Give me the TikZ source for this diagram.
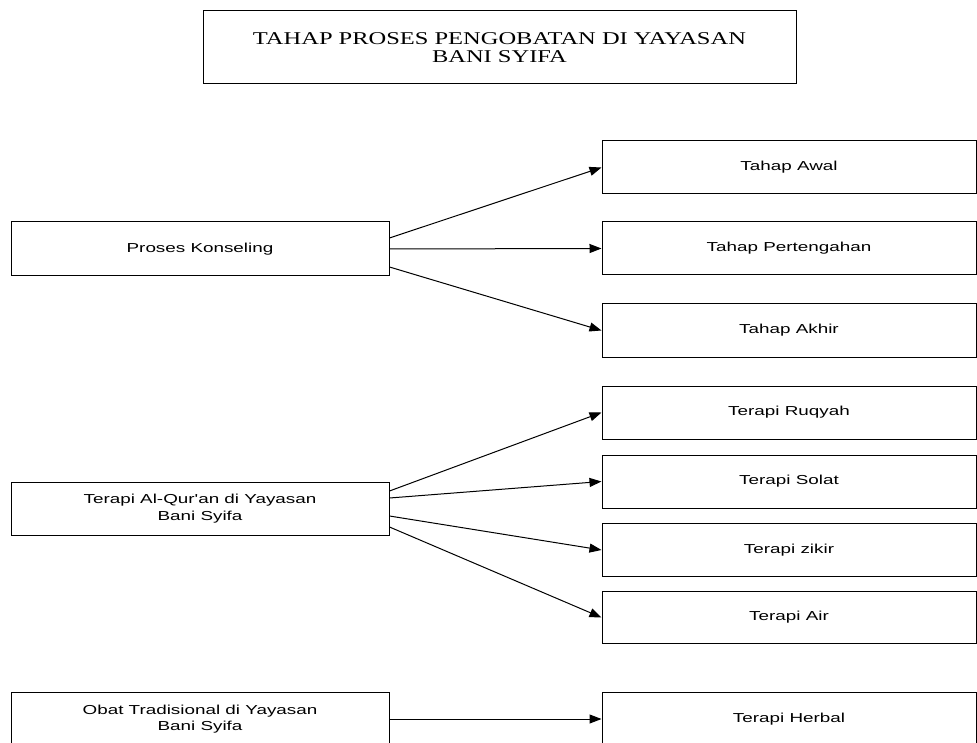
\documentclass[tikz,border=0pt]{standalone}
\usepackage{fontspec}
\setmainfont{Liberation Serif}
\newfontfamily\arialx[FakeStretch=1.45]{Liberation Sans}
\newfontfamily\timesx[FakeStretch=1.36]{Liberation Serif}
\usetikzlibrary{arrows.meta}

\begin{document}
\begin{tikzpicture}[
					x = 1pt, y = -1pt,
					line width = 1pt,
					every node/.style = {
						shape = rectangle,
						draw,
						minimum width = 374pt,
						minimum height = 54pt,
						align = center,
						font = \arialx\fontsize{13}{16.5}\selectfont,
					},
					kiri/.style = {minimum width = 378pt},
					panah/.style = {-{Triangle[length = 12pt, width = 9pt]}},
			]
				\clip (0, 0) rectangle (977, 743);

				\draw (499.5, 47.5) node (judul) [rectangle, minimum width = 593pt, minimum height = 73pt, font = \timesx\fontsize{18}{18}\selectfont] {TAHAP PROSES PENGOBATAN DI YAYASAN\\BANI SYIFA};

				\draw (200, 249) node (konseling) [rectangle, kiri] {Proses Konseling};
				\draw (200, 508.5) node (alquran) [rectangle, kiri, minimum height = 53pt] {Terapi Al-Qur'an di Yayasan\\Bani Syifa};
				\draw (200, 719) node (obat) [rectangle, kiri] {Obat Tradisional di Yayasan\\Bani Syifa};

				\draw (789, 167.5) node (awal) [rectangle, minimum height = 53pt] {Tahap Awal};
				\draw (789, 248.5) node (tengah) [rectangle, minimum height = 53pt] {Tahap Pertengahan};
				\draw (789, 330.5) node (akhir) [rectangle, minimum height = 53pt] {Tahap Akhir};
				\draw (789, 412.5) node (ruqyah) [rectangle, minimum height = 53pt] {Terapi Ruqyah};
				\draw (789, 481.5) node (solat) [rectangle, minimum height = 53pt] {Terapi Solat};
				\draw (789, 550) node (zikir) [rectangle, minimum height = 53pt] {Terapi zikir};
				\draw (789, 617.5) node (air) [rectangle, minimum height = 52pt] {Terapi Air};
				\draw (789, 719) node (herbal) [rectangle] {Terapi Herbal};

				\draw [panah] ([yshift = 11pt] konseling.east) -- (awal.west);
				\draw [panah] (konseling.east) -- (tengah.west);
				\draw [panah] ([yshift = -18pt] konseling.east) -- (akhir.west);
				\draw [panah] ([yshift = 17.5pt] alquran.east) -- (ruqyah.west);
				\draw [panah] ([yshift = 10.5pt] alquran.east) -- (solat.west);
				\draw [panah] ([yshift = -7.5pt] alquran.east) -- (zikir.west);
				\draw [panah] ([yshift = -18.5pt] alquran.east) -- (air.west);
				\draw [panah] (obat.east) -- (herbal.west);
			\end{tikzpicture}
\end{document}
